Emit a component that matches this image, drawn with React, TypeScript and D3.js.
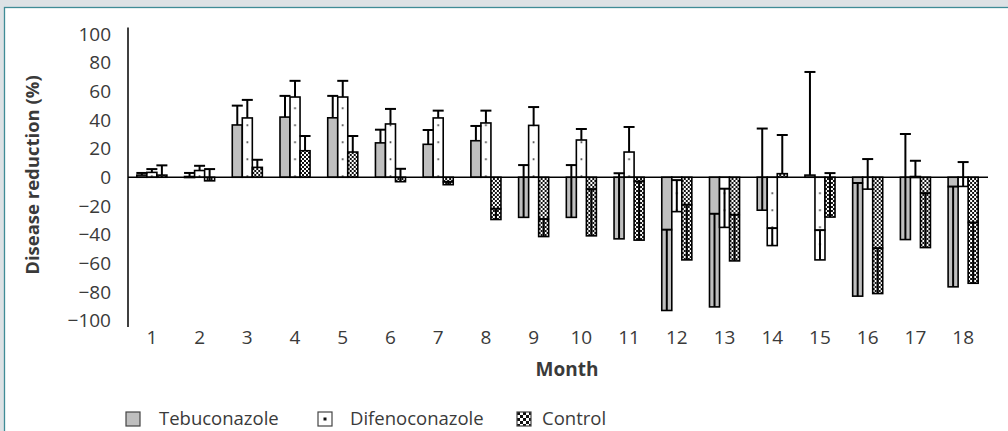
import React from "react";
import * as d3 from "d3";

// Monthly disease reduction (%) per treatment, with one-sided (+) error bars
const months = ["1","2","3","4","5","6","7","8","9","10","11","12","13","14","15","16","17","18"];
const seriesNames = ["Tebuconazole", "Difenoconazole", "Control"];

const tebuconazole = [1.5, 0.5, 36.5, 42, 41.5, 24, 23, 25.5, -28, -28, -43, -93, -90.5, -23, 1.5, -83, -43.5, -76.5];
const tebuconazoleErr = [1.5, 2.5, 13.5, 14.8, 15.3, 9.2, 10, 10.3, 36.5, 36.5, 45.8, 56.4, 65, 57, 72, 79, 73.7, 70];

const difenoconazole = [3.4, 4.7, 41.4, 56, 56, 37.2, 41.4, 37.9, 36.2, 26, 17.6, -24, -35, -47.7, -57.7, -8.3, 0.5, -6.4];
const difenoconazoleErr = [2.3, 3.3, 12.6, 11.3, 11.3, 10.5, 5.1, 8.6, 12.8, 7.7, 17.5, 22, 27, 12.2, 20.8, 21, 11, 17];

const control = [1.5, -2.5, 6.9, 18.5, 17.6, -3.1, -5.2, -29.5, -41.4, -40.9, -43.9, -57.7, -58.4, 2.5, -27.8, -81.2, -49.1, -74];
const controlErr = [6.8, 8.2, 5.3, 10.3, 11.2, 9, 2, 7.5, 12.2, 32.6, 41, 38.5, 32.2, 27, 30.7, 31.7, 38, 42.4];

const yTicks = [100, 80, 60, 40, 20, 0, -20, -40, -60, -80, -100];

const W = 1008;
const H = 431;
const FONT = "'Open Sans', 'Noto Sans', sans-serif";
const TEXT = "#3a3a3a";

export default function App() {
  const x = d3.scaleBand<string>().domain(months).range([128, 987]).paddingInner(0.37).paddingOuter(0.185);
  const sub = d3.scaleBand<string>().domain(seriesNames).range([0, x.bandwidth()]);
  const y = d3.scaleLinear().domain([-100, 100]).range([320.5, 34]);

  const series = [
    { name: seriesNames[0], values: tebuconazole, errs: tebuconazoleErr, fill: "#bfbfbf" },
    { name: seriesNames[1], values: difenoconazole, errs: difenoconazoleErr, fill: "url(#difPat)" },
    { name: seriesNames[2], values: control, errs: controlErr, fill: "url(#ctrlPat)" },
  ];

  const bw = sub.bandwidth();
  const legend = [
    { name: seriesNames[0], fill: "#bfbfbf", sx: 126, tx: 159 },
    { name: seriesNames[1], fill: "url(#difLeg)", sx: 318, tx: 350 },
    { name: seriesNames[2], fill: "url(#ctrlLeg)", sx: 517, tx: 542 },
  ];

  return (
    <svg width={W} height={H} style={{ position: "absolute", left: 0, top: 0, display: "block" }}>
      <defs>
        <pattern id="difPat" patternUnits="userSpaceOnUse" x={sub(seriesNames[1])} y={y(0) + 8} width={bw} height={17}>
          <rect width={bw} height={17} fill="#ffffff" />
          <rect x={bw / 2 - 0.8} y={7.2} width={1.6} height={1.6} fill="#222" />
        </pattern>
        <pattern id="ctrlPat" patternUnits="userSpaceOnUse" width={4} height={4}>
          <rect width={4} height={4} fill="#ffffff" />
          <rect width={2} height={2} fill="#111" />
          <rect x={2} y={2} width={2} height={2} fill="#111" />
        </pattern>
        <pattern id="difLeg" patternUnits="userSpaceOnUse" width={14} height={14} x={318} y={412}>
          <rect width={14} height={14} fill="#ffffff" />
          <rect x={5.5} y={5.5} width={3} height={3} fill="#111" />
        </pattern>
        <pattern id="ctrlLeg" patternUnits="userSpaceOnUse" width={6} height={6} x={517} y={412}>
          <rect width={6} height={6} fill="#ffffff" />
          <rect width={3} height={3} fill="#111" />
          <rect x={3} y={3} width={3} height={3} fill="#111" />
        </pattern>
      </defs>

      {/* page frame */}
      <rect x={0} y={0} width={W} height={H} fill="#dde2e5" />
      <rect x={4.5} y={7.5} width={W + 10} height={H + 10} fill="#ffffff" stroke="#3f8c96" strokeWidth={1.3} />

      {/* bars */}
      {months.map((m, i) => (
        <g key={m} transform={`translate(${x(m)},0)`}>
          {series.map((s) => {
            const v = s.values[i];
            const bx = sub(s.name) as number;
            const y0 = y(Math.max(0, v));
            const y1 = y(Math.min(0, v));
            return (
              <rect key={s.name} x={bx} y={y0} width={bw} height={Math.max(1, y1 - y0)}
                fill={s.fill} stroke="#000" strokeWidth={1.6} />
            );
          })}
          {series.map((s) => {
            const v = s.values[i];
            const e = s.errs[i];
            const cx = (sub(s.name) as number) + bw / 2;
            return (
              <g key={s.name + "err"} stroke="#000" strokeWidth={2}>
                <line x1={cx} x2={cx} y1={y(v)} y2={y(v + e)} />
                <line x1={cx - 5.5} x2={cx + 5.5} y1={y(v + e)} y2={y(v + e)} />
              </g>
            );
          })}
        </g>
      ))}

      {/* axes */}
      <line x1={128} x2={128} y1={y(104.5)} y2={y(-104.5)} stroke="#000" strokeWidth={1.5} />
      <line x1={128} x2={988} y1={y(0)} y2={y(0)} stroke="#000" strokeWidth={1.5} />

      {yTicks.map((t) => (
        <text key={t} x={111} y={y(t)} dy="0.35em" textAnchor="end" fontFamily={FONT} fontSize={19} fill={TEXT}>
          {t < 0 ? "\u2212" + Math.abs(t) : t}
        </text>
      ))}
      {months.map((m) => (
        <text key={m} x={(x(m) as number) + x.bandwidth() / 2} y={343.5} textAnchor="middle" fontFamily={FONT} fontSize={19} fill={TEXT}>
          {m}
        </text>
      ))}

      <text transform="translate(33,175) rotate(-90)" textAnchor="middle" dy="0.35em" fontFamily={FONT} fontSize={18.5} fontWeight="bold" fill={TEXT}>
        Disease reduction (%)
      </text>
      <text x={567} y={376} textAnchor="middle" fontFamily={FONT} fontSize={19} fontWeight="bold" fill={TEXT}>
        Month
      </text>

      {/* legend */}
      {legend.map((l) => (
        <g key={l.name}>
          <rect x={l.sx} y={412} width={14} height={14} fill={l.fill} stroke="#444" strokeWidth={1.2} />
          <text x={l.tx} y={425} fontFamily={FONT} fontSize={18.5} fill={TEXT}>
            {l.name}
          </text>
        </g>
      ))}
    </svg>
  );
}
